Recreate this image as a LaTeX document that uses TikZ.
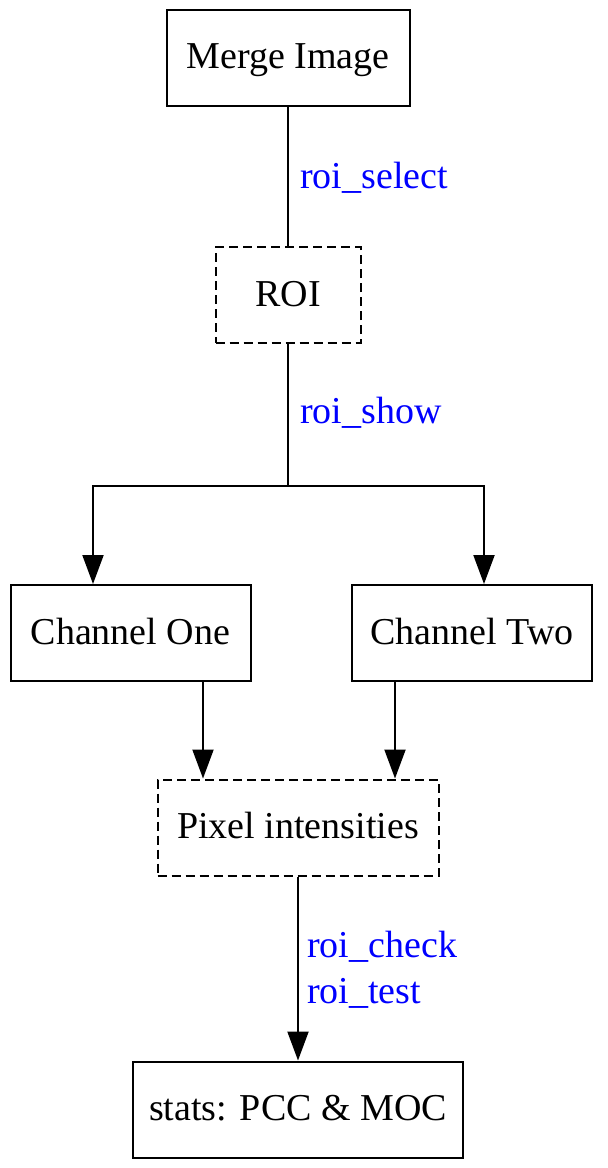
\documentclass[tikz,border=0pt]{standalone}
\usepackage{fontspec}
\setmainfont{Liberation Serif}
\usepackage{tikz}
\usetikzlibrary{arrows.meta}
\usetikzlibrary{calc}
\usetikzlibrary{positioning}
\definecolor{edgelabel}{RGB}{0,0,255}

\begin{document}
\begin{tikzpicture}[x=1pt, y=-1pt,
			every node/.style={font=\fontsize{38}{46}\selectfont, inner sep=0pt},
			box/.style={draw, line width=2pt, minimum height=96pt, text height=27pt, text depth=5pt},
			dashbox/.style={box, dash pattern=on 9pt off 5pt},
			edge/.style={line width=2pt},
			arrow/.style={edge, -{Triangle[length=29pt, width=21pt]}},
			tag/.style={text=edgelabel, anchor=base west, align=left}
		]
		\useasboundingbox (0,0) rectangle (608,1168);

		\node[box, minimum width=243pt] (merge) at (288,57.5) {Merge Image};
		\node[dashbox, minimum width=145pt] (roi) at (288,295) {ROI};
		\node[box, minimum width=240pt] (one) at (130.5,633) {Channel One};
		\node[box, minimum width=240pt] (two) at (472,633) {Channel Two};
		\node[dashbox, minimum width=281pt] (pixel) at (298,827.5) {Pixel intensities};
		\node[box, minimum width=330pt] (stats) at (298,1109.5) {stats: PCC \& MOC};

		% split below ROI
		\coordinate (split) at (288,486);
		\coordinate (drop1) at (93,486);
		\coordinate (drop2) at (484,486);
		\coordinate (pin1) at ([xshift=-95pt]pixel.north);
		\coordinate (pin2) at ([xshift=97pt]pixel.north);

		\draw[edge] (merge.south) -- (roi.north);
		\draw[arrow] (roi.south) -- (split) -- (drop1) -- (drop1 |- one.north);
		\draw[arrow] (roi.south) -- (split) -- (drop2) -- (drop2 |- two.north);
		\draw[arrow] (one.south -| pin1) -- (pin1);
		\draw[arrow] (two.south -| pin2) -- (pin2);
		\draw[arrow] (pixel.south) -- (stats.north);

		% edge labels
		\node[tag] (select) at (300,188) {roi\_select};
		\node[tag] (show) at (300,423) {roi\_show};
		\node[tag, anchor=north west] (check) at (307,931) {roi\_check\\roi\_test};
	\end{tikzpicture}
\end{document}
